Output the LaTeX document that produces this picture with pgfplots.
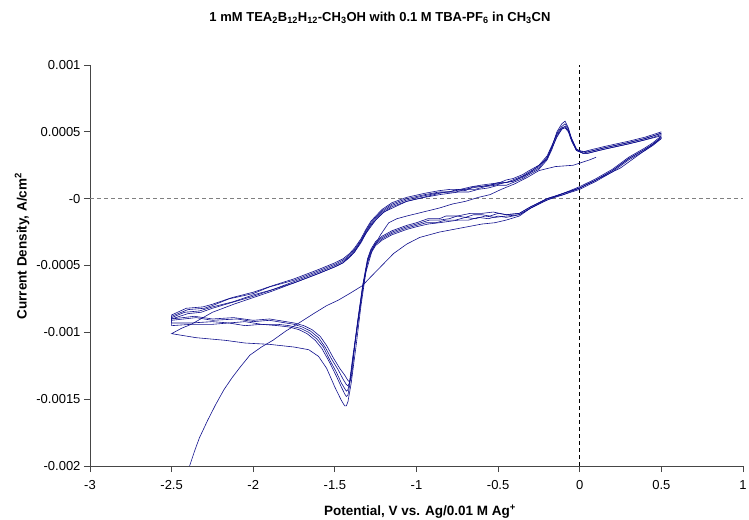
\documentclass[border=0pt]{standalone}
\usepackage{fontspec}
\setmainfont{Liberation Sans}
\usepackage{pgfplots}
\pgfplotsset{compat=1.18}
\definecolor{cvblue}{RGB}{15,15,140}
\definecolor{axgray}{RGB}{70,70,70}

\pgfplotsset{
  cv/.style={cvblue, line width=0.6pt, no marks},
}

\begin{document}
\begin{tikzpicture}
\begin{axis}[
  at={(0,0)}, anchor=south west,
  scale only axis, width=653pt, height=401pt,
  xmin=-3, xmax=1, ymin=-0.002, ymax=0.001,
  axis x line=bottom, axis y line=left,
  axis line style={-, axgray, line width=0.8pt},
  tick style={axgray, line width=0.8pt},
  major tick length=6pt, tick align=outside,
  xtick={-3,-2.5,-2,-1.5,-1,-0.5,0,0.5,1},
  xticklabels={-3,-2.5,-2,-1.5,-1,-0.5,0,0.5,1},
  ytick={-0.002,-0.0015,-0.001,-0.0005,0,0.0005,0.001},
  yticklabels={-0.002,-0.0015,-0.001,-0.0005,-0,0.0005,0.001},
  scaled ticks=false,
  tick label style={font=\fontsize{13}{15}\selectfont},
  xticklabel style={yshift=-5pt},
  /pgf/number format/assume math mode=true,
]
% reference lines
\draw[gray, dash pattern=on 4pt off 3pt, line width=0.8pt] (axis cs:-3,0) -- (axis cs:1,0);
\draw[black, dash pattern=on 4pt off 3pt, line width=0.8pt] (axis cs:0,-0.002) -- (axis cs:0,0.001);

% steady cycles
\addplot[cv] coordinates {
(0.50,0.00046) (0.45,0.00041) (0.40,0.00037) (0.30,0.00030) (0.20,0.00021) (0.10,0.00014)
(0.00,0.00008) (-0.10,0.00004) (-0.20,0.00000) (-0.30,-0.00006) (-0.37,-0.00011) (-0.45,-0.00012)
(-0.50,-0.00011) (-0.55,-0.00013) (-0.60,-0.00012) (-0.65,-0.00012) (-0.70,-0.00014) (-0.75,-0.00013)
(-0.80,-0.00015) (-0.86,-0.00016) (-0.92,-0.00016) (-1.00,-0.00019) (-1.06,-0.00021) (-1.15,-0.00025)
(-1.21,-0.00029) (-1.25,-0.00033) (-1.28,-0.00039) (-1.30,-0.00046) (-1.33,-0.00066) (-1.36,-0.00092)
(-1.38,-0.00112) (-1.40,-0.00130) (-1.41,-0.00138) (-1.42,-0.00140) (-1.43,-0.00139) (-1.45,-0.00135)
(-1.48,-0.00128) (-1.52,-0.00120) (-1.56,-0.00111) (-1.60,-0.00104) (-1.65,-0.00099) (-1.70,-0.00096)
(-1.75,-0.00094) (-1.80,-0.00093) (-1.90,-0.00091) (-2.00,-0.00092) (-2.10,-0.00090) (-2.25,-0.00091)
(-2.35,-0.00089) (-2.50,-0.00091)
(-2.50,-0.00088) (-2.40,-0.00083) (-2.30,-0.00082) (-2.25,-0.00080) (-2.15,-0.00075) (-2.00,-0.00071)
(-1.90,-0.00066) (-1.75,-0.00061) (-1.60,-0.00054) (-1.50,-0.00049) (-1.45,-0.00046) (-1.41,-0.00042)
(-1.38,-0.00038) (-1.34,-0.00031) (-1.31,-0.00024) (-1.28,-0.00018) (-1.25,-0.00014) (-1.21,-0.00009)
(-1.15,-0.00004) (-1.06,0.00000) (-0.95,0.00003) (-0.86,0.00005) (-0.80,0.00005) (-0.75,0.00007)
(-0.70,0.00006) (-0.65,0.00009) (-0.61,0.00009) (-0.55,0.00010) (-0.50,0.00012) (-0.45,0.00012)
(-0.41,0.00014) (-0.35,0.00017) (-0.31,0.00020) (-0.25,0.00024) (-0.20,0.00031) (-0.17,0.00039)
(-0.14,0.00049) (-0.11,0.00054) (-0.09,0.00056) (-0.07,0.00052) (-0.05,0.00044) (-0.02,0.00036)
(0.02,0.00034) (0.05,0.00035) (0.15,0.00038) (0.30,0.00042) (0.40,0.00045) (0.50,0.00049)
};
\addplot[cv] coordinates {
(0.50,0.00047) (0.45,0.00042) (0.40,0.00038) (0.30,0.00031) (0.20,0.00022) (0.10,0.00015)
(0.00,0.00009) (-0.10,0.00004) (-0.20,-0.00001) (-0.30,-0.00007) (-0.37,-0.00012) (-0.45,-0.00013)
(-0.52,-0.00014) (-0.58,-0.00013) (-0.64,-0.00015) (-0.70,-0.00014) (-0.76,-0.00016) (-0.82,-0.00016)
(-0.88,-0.00018) (-0.94,-0.00018) (-1.00,-0.00020) (-1.06,-0.00022) (-1.15,-0.00026)
(-1.21,-0.00030) (-1.25,-0.00034) (-1.28,-0.00040) (-1.30,-0.00047) (-1.33,-0.00067) (-1.36,-0.00093)
(-1.39,-0.00118) (-1.41,-0.00137) (-1.42,-0.00143) (-1.43,-0.00144) (-1.44,-0.00142) (-1.46,-0.00138)
(-1.49,-0.00130) (-1.53,-0.00121) (-1.57,-0.00111) (-1.61,-0.00105) (-1.66,-0.00100) (-1.71,-0.00097)
(-1.78,-0.00095) (-1.85,-0.00094) (-1.95,-0.00094) (-2.05,-0.00092) (-2.15,-0.00093) (-2.25,-0.00092)
(-2.38,-0.00093) (-2.50,-0.00093)
(-2.50,-0.00089) (-2.42,-0.00085) (-2.33,-0.00084) (-2.25,-0.00081) (-2.12,-0.00077) (-2.00,-0.00072)
(-1.88,-0.00068) (-1.75,-0.00062) (-1.60,-0.00055) (-1.50,-0.00050) (-1.45,-0.00047) (-1.41,-0.00043)
(-1.38,-0.00039) (-1.34,-0.00032) (-1.31,-0.00025) (-1.28,-0.00019) (-1.25,-0.00015) (-1.21,-0.00010)
(-1.15,-0.00005) (-1.06,-0.00001) (-0.96,0.00002) (-0.88,0.00004) (-0.82,0.00005) (-0.76,0.00005)
(-0.70,0.00007) (-0.64,0.00007) (-0.58,0.00009) (-0.52,0.00010) (-0.46,0.00012) (-0.41,0.00013)
(-0.35,0.00016) (-0.31,0.00019) (-0.25,0.00023) (-0.20,0.00030) (-0.17,0.00039) (-0.14,0.00050)
(-0.11,0.00056) (-0.09,0.00058) (-0.07,0.00053) (-0.05,0.00045) (-0.02,0.00037) (0.02,0.00034)
(0.05,0.00034) (0.15,0.00037) (0.30,0.00041) (0.40,0.00044) (0.50,0.00048)
};
\addplot[cv] coordinates {
(0.50,0.00045) (0.45,0.00040) (0.40,0.00036) (0.30,0.00029) (0.20,0.00020) (0.10,0.00013)
(0.00,0.00007) (-0.10,0.00003) (-0.20,-0.00001) (-0.30,-0.00007) (-0.37,-0.00012) (-0.45,-0.00014)
(-0.50,-0.00013) (-0.56,-0.00015) (-0.62,-0.00014) (-0.68,-0.00016) (-0.74,-0.00016) (-0.80,-0.00017)
(-0.86,-0.00018) (-0.93,-0.00019) (-1.00,-0.00021) (-1.06,-0.00023) (-1.15,-0.00027)
(-1.21,-0.00031) (-1.25,-0.00035) (-1.28,-0.00041) (-1.30,-0.00048) (-1.33,-0.00068) (-1.36,-0.00094)
(-1.39,-0.00120) (-1.41,-0.00140) (-1.42,-0.00147) (-1.43,-0.00148) (-1.44,-0.00146) (-1.46,-0.00141)
(-1.49,-0.00133) (-1.53,-0.00123) (-1.58,-0.00112) (-1.62,-0.00106) (-1.67,-0.00101) (-1.72,-0.00098)
(-1.78,-0.00096) (-1.85,-0.00095) (-1.95,-0.00094) (-2.05,-0.00095) (-2.15,-0.00093) (-2.25,-0.00094)
(-2.38,-0.00094) (-2.50,-0.00095)
(-2.50,-0.00090) (-2.40,-0.00086) (-2.32,-0.00085) (-2.25,-0.00082) (-2.14,-0.00078) (-2.00,-0.00073)
(-1.88,-0.00068) (-1.75,-0.00063) (-1.60,-0.00056) (-1.50,-0.00051) (-1.45,-0.00048) (-1.41,-0.00044)
(-1.38,-0.00040) (-1.34,-0.00033) (-1.31,-0.00026) (-1.28,-0.00020) (-1.25,-0.00016) (-1.21,-0.00011)
(-1.15,-0.00006) (-1.06,-0.00002) (-0.95,0.00001) (-0.86,0.00003) (-0.80,0.00004) (-0.74,0.00005)
(-0.68,0.00005) (-0.62,0.00007) (-0.56,0.00008) (-0.50,0.00010) (-0.45,0.00010) (-0.41,0.00012)
(-0.35,0.00015) (-0.31,0.00018) (-0.25,0.00022) (-0.20,0.00029) (-0.17,0.00037) (-0.14,0.00047)
(-0.11,0.00052) (-0.09,0.00053) (-0.07,0.00050) (-0.05,0.00043) (-0.02,0.00036) (0.02,0.00034)
(0.05,0.00034) (0.15,0.00037) (0.30,0.00041) (0.40,0.00044) (0.50,0.00047)
};
\addplot[cv] coordinates {
(0.50,0.00046) (0.45,0.00041) (0.40,0.00037) (0.30,0.00030) (0.20,0.00021) (0.10,0.00014)
(0.00,0.00008) (-0.10,0.00003) (-0.20,0.00000) (-0.30,-0.00006) (-0.37,-0.00011) (-0.45,-0.00012)
(-0.53,-0.00010) (-0.60,-0.00011) (-0.67,-0.00011) (-0.75,-0.00013) (-0.82,-0.00013) (-0.86,-0.00015)
(-0.93,-0.00015) (-1.00,-0.00018) (-1.06,-0.00020) (-1.15,-0.00024)
(-1.21,-0.00028) (-1.25,-0.00032) (-1.28,-0.00038) (-1.30,-0.00045) (-1.33,-0.00065) (-1.36,-0.00091)
(-1.38,-0.00110) (-1.39,-0.00125) (-1.40,-0.00134) (-1.41,-0.00137) (-1.42,-0.00136) (-1.44,-0.00132)
(-1.47,-0.00127) (-1.51,-0.00119) (-1.55,-0.00110) (-1.59,-0.00103) (-1.64,-0.00098) (-1.69,-0.00095)
(-1.75,-0.00093) (-1.80,-0.00092) (-1.90,-0.00090) (-2.00,-0.00091) (-2.12,-0.00089) (-2.25,-0.00090)
(-2.36,-0.00088) (-2.50,-0.00090)
(-2.50,-0.00087) (-2.41,-0.00082) (-2.31,-0.00081) (-2.25,-0.00079) (-2.13,-0.00074) (-2.00,-0.00070)
(-1.88,-0.00065) (-1.75,-0.00060) (-1.60,-0.00053) (-1.50,-0.00048) (-1.45,-0.00045) (-1.41,-0.00041)
(-1.38,-0.00037) (-1.34,-0.00030) (-1.31,-0.00023) (-1.28,-0.00017) (-1.25,-0.00013) (-1.21,-0.00008)
(-1.15,-0.00003) (-1.06,0.00001) (-0.95,0.00004) (-0.86,0.00006) (-0.79,0.00007) (-0.73,0.00007)
(-0.66,0.00009) (-0.61,0.00010) (-0.55,0.00011) (-0.49,0.00012) (-0.45,0.00014) (-0.41,0.00015)
(-0.35,0.00018) (-0.31,0.00021) (-0.25,0.00025) (-0.20,0.00032) (-0.17,0.00040) (-0.14,0.00048)
(-0.11,0.00053) (-0.09,0.00054) (-0.07,0.00051) (-0.05,0.00045) (-0.02,0.00037) (0.02,0.00035)
(0.05,0.00036) (0.15,0.00039) (0.30,0.00043) (0.40,0.00046) (0.50,0.00050)
};
% first cycle
\addplot[cv] coordinates {
(0.10,0.00031) (0.06,0.00029) (-0.04,0.00025) (-0.15,0.00024) (-0.25,0.00021) (-0.32,0.00016)
(-0.40,0.00011) (-0.48,0.00007) (-0.55,0.00003) (-0.62,0.00001) (-0.70,-0.00002) (-0.78,-0.00004)
(-0.86,-0.00007) (-0.96,-0.00010) (-1.06,-0.00013) (-1.12,-0.00015) (-1.17,-0.00018) (-1.22,-0.00027)
(-1.27,-0.00038) (-1.31,-0.00055) (-1.34,-0.00080) (-1.37,-0.00110) (-1.40,-0.00138) (-1.42,-0.00152)
(-1.43,-0.00155) (-1.44,-0.00155) (-1.46,-0.00151) (-1.50,-0.00141) (-1.55,-0.00127) (-1.60,-0.00118)
(-1.66,-0.00113) (-1.75,-0.00111) (-1.90,-0.00109) (-2.05,-0.00108) (-2.17,-0.00106) (-2.35,-0.00104)
(-2.50,-0.00101)
(-2.44,-0.00097) (-2.38,-0.00094) (-2.25,-0.00085) (-2.12,-0.00079) (-2.00,-0.00074) (-1.88,-0.00069)
(-1.75,-0.00063) (-1.60,-0.00056) (-1.50,-0.00051) (-1.45,-0.00048) (-1.38,-0.00040) (-1.31,-0.00026)
(-1.25,-0.00016) (-1.20,-0.00010) (-1.06,-0.00002) (-0.86,0.00004) (-0.61,0.00009) (-0.41,0.00013)
(-0.31,0.00019) (-0.20,0.00030) (-0.17,0.00038) (-0.14,0.00046) (-0.11,0.00052) (-0.09,0.00054)
(-0.07,0.00051) (-0.05,0.00044) (-0.02,0.00036) (0.05,0.00035) (0.15,0.00038) (0.30,0.00042)
(0.40,0.00045) (0.50,0.00049)
};
% last sweep
\addplot[cv] coordinates {
(-2.39,-0.00200) (-2.36,-0.00189) (-2.33,-0.00179) (-2.28,-0.00166) (-2.23,-0.00154) (-2.18,-0.00143)
(-2.13,-0.00134) (-2.08,-0.00126) (-2.02,-0.00117) (-1.95,-0.00111) (-1.88,-0.00106) (-1.80,-0.00099)
(-1.72,-0.00093) (-1.63,-0.00086) (-1.55,-0.00080) (-1.48,-0.00076) (-1.41,-0.00071) (-1.33,-0.00065)
(-1.30,-0.00061) (-1.26,-0.00056) (-1.22,-0.00051) (-1.18,-0.00046) (-1.14,-0.00041) (-1.06,-0.00034)
(-0.98,-0.00029) (-0.92,-0.00027) (-0.86,-0.00025) (-0.73,-0.00022) (-0.60,-0.00019) (-0.52,-0.00018)
(-0.45,-0.00016) (-0.37,-0.00013) (-0.30,-0.00007) (-0.20,0.00000) (0.00,0.00008) (0.25,0.00023)
(0.50,0.00045)
};
\end{axis}
\node[font=\bfseries\fontsize{13}{15}\selectfont] at (290pt,448pt)
  {1 mM TEA\textsubscript{2}B\textsubscript{12}H\textsubscript{12}-CH\textsubscript{3}OH with 0.1 M TBA-PF\textsubscript{6} in CH\textsubscript{3}CN};
\node[font=\bfseries\fontsize{13.5}{15}\selectfont] at (330pt,-46pt)
  {Potential, V vs. Ag/0.01 M Ag\textsuperscript{+}};
\node[font=\bfseries\fontsize{13.5}{15}\selectfont, rotate=90] at (-68pt,220pt)
  {Current Density, A/cm\textsuperscript{2}};
\pgfresetboundingbox
\path[use as bounding box] (-90pt,-53pt) rectangle (659pt,466pt);
\end{tikzpicture}
\end{document}
